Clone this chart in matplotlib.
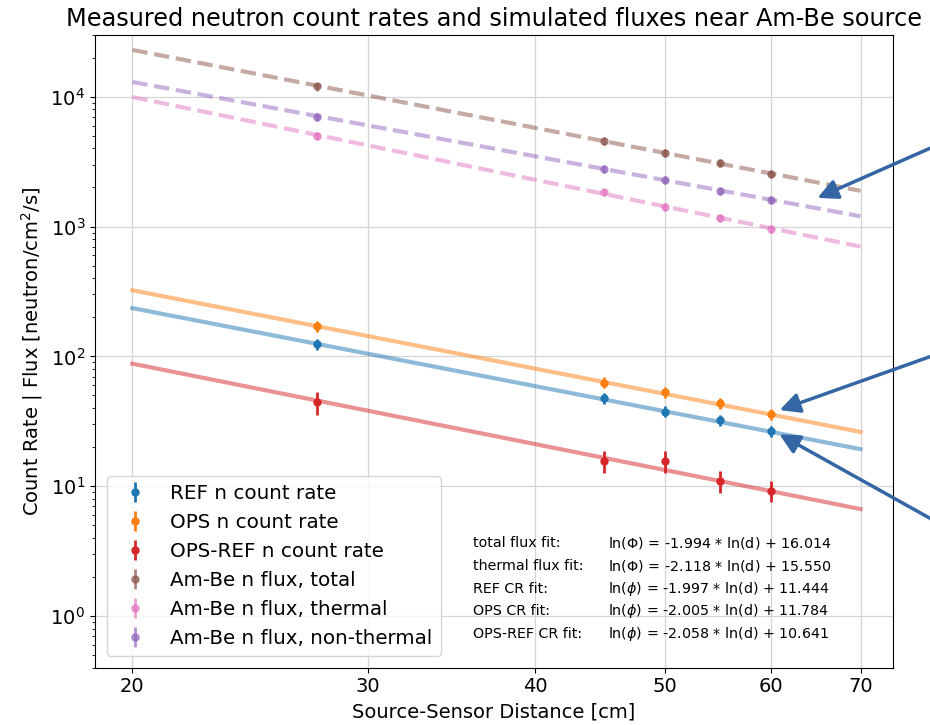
import matplotlib
matplotlib.use('Agg')
import matplotlib.pyplot as plt
from matplotlib.ticker import ScalarFormatter, NullLocator

# measured distances [cm]
dist = [27.5, 45, 50, 55, 60]

# count rates [counts/s] with errors
ref_cr = [125, 47.5, 37.6, 32.4, 26.5]
ref_err = [12, 4.5, 3.6, 3.1, 2.5]
ops_cr = [171, 62.8, 52.9, 43.5, 35.8]
ops_err = [16, 6, 5, 4.2, 3.4]
diff_cr = [44.5, 15.7, 15.7, 10.9, 9.2]
diff_err = [9, 3.1, 3.1, 2.1, 1.7]

# simulated fluxes [n/cm^2/s]
flux_total = [12000, 4590, 3700, 3100, 2560]
flux_thermal = [5000, 1836, 1420, 1167, 966]
flux_nonthermal = [6980, 2794, 2285, 1892, 1603]
flux_rel_err = 0.07

# fit lines, end points at d = 20 and d = 70
fit_d = [20, 70]
fit_total = [22950, 1886]
fit_thermal = [9952, 701]
fit_nonthermal = [13000, 1200]
fit_ref = [235.5, 19.3]
fit_ops = [323.1, 26.2]
fit_diff = [87.9, 6.67]

fit_names = ['total flux fit:', 'thermal flux fit:', 'REF CR fit:',
             'OPS CR fit:', 'OPS-REF CR fit:']
fit_eqs = [r'ln($\Phi$) = -1.994 * ln(d) + 16.014',
           r'ln($\Phi$) = -2.118 * ln(d) + 15.550',
           r'ln($\phi$) = -1.997 * ln(d) + 11.444',
           r'ln($\phi$) = -2.005 * ln(d) + 11.784',
           r'ln($\phi$) = -2.058 * ln(d) + 10.641']

fig = plt.figure(figsize=(9.3, 7.25), dpi=100)
ax = fig.add_axes([0.102, 0.079, 0.858, 0.873])
ax.set_xscale('log')
ax.set_yscale('log')

# fits first, points on top
ax.plot(fit_d, fit_total, '--', color='C5', alpha=0.5, lw=3)
ax.plot(fit_d, fit_nonthermal, '--', color='C4', alpha=0.5, lw=3)
ax.plot(fit_d, fit_thermal, '--', color='C6', alpha=0.5, lw=3)
ax.plot(fit_d, fit_ops, '-', color='C1', alpha=0.5, lw=3)
ax.plot(fit_d, fit_ref, '-', color='C0', alpha=0.5, lw=3)
ax.plot(fit_d, fit_diff, '-', color='C3', alpha=0.5, lw=3)

kw = dict(fmt='o', markersize=5, elinewidth=2)
ax.errorbar(dist, ref_cr, yerr=ref_err, color='C0', label='REF n count rate', **kw)
ax.errorbar(dist, ops_cr, yerr=ops_err, color='C1', label='OPS n count rate', **kw)
ax.errorbar(dist, diff_cr, yerr=diff_err, color='C3', label='OPS-REF n count rate', **kw)
for vals, col, lab in [(flux_total, 'C5', 'Am-Be n flux, total'),
                       (flux_thermal, 'C6', 'Am-Be n flux, thermal'),
                       (flux_nonthermal, 'C4', 'Am-Be n flux, non-thermal')]:
    errs = [v * flux_rel_err for v in vals]
    ax.errorbar(dist, vals, yerr=errs, color=col, alpha=0.7, label=lab, **kw)

ax.set_xlim(18.75, 74.0)
ax.set_ylim(0.4, 3e4)
ax.set_xticks([20, 30, 40, 50, 60, 70])
ax.xaxis.set_major_formatter(ScalarFormatter())
ax.xaxis.set_minor_locator(NullLocator())
ax.tick_params(labelsize=14)
ax.grid(True, which='major', color='#d5d5d5', lw=0.9)

ax.set_title('Measured neutron count rates and simulated fluxes near Am-Be source',
             fontsize=17.3)
ax.set_xlabel('Source-Sensor Distance [cm]', fontsize=14)
ax.set_ylabel('Count Rate | Flux [neutron/cm$^2$/s]', fontsize=14)
ax.legend(loc='lower left', fontsize=14.3, borderaxespad=0.6)

ys = [0.1975, 0.161, 0.125, 0.090, 0.0537]
for name, eq, y in zip(fit_names, fit_eqs, ys):
    ax.text(0.474, y, name, transform=ax.transAxes, fontsize=10.3, va='center')
    ax.text(0.643, y, eq, transform=ax.transAxes, fontsize=10.3, va='center')

# arrows added on the right, coming in from outside the figure
arrow = dict(arrowstyle='-|>', color='#3465a4', lw=2.5, mutation_scale=30)
for tip, tail in [((815, 526), (960, 590)),
                  ((777, 314), (960, 379)),
                  ((777, 292), (960, 190))]:
    ax.annotate('', xy=tip, xycoords='figure pixels', xytext=tail,
                textcoords='figure pixels', arrowprops=arrow,
                annotation_clip=False)

fig.savefig('out.png', dpi=100)
